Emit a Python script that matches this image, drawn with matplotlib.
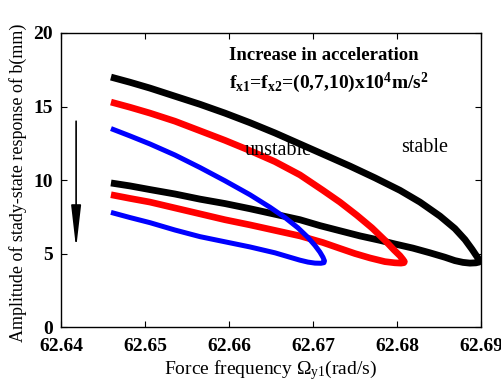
import matplotlib
matplotlib.use("Agg")
import matplotlib.pyplot as plt

plt.rcParams['font.family'] = ['Liberation Serif', 'DejaVu Serif']
plt.rcParams['mathtext.fontset'] = 'custom'
plt.rcParams['mathtext.rm'] = 'Liberation Serif'
plt.rcParams['mathtext.it'] = 'Liberation Serif:italic'
plt.rcParams['mathtext.bf'] = 'Liberation Serif:bold'
plt.rcParams['mathtext.default'] = 'regular'

# amplitude-frequency branches: upper branch out to the turning point,
# lower branch back from it
black_up_x = [62.64595, 62.64821, 62.65060, 62.65357, 62.65655, 62.65952, 62.66250,
              62.66548, 62.66845, 62.67143, 62.67440, 62.67738, 62.68036, 62.68274,
              62.68512, 62.68690, 62.68810, 62.68893, 62.68940, 62.68970, 62.68982]
black_up_y = [17.0, 16.65, 16.25, 15.7, 15.15, 14.55, 13.9, 13.2, 12.45, 11.7, 10.95,
              10.15, 9.3, 8.5, 7.55, 6.7, 5.95, 5.3, 4.9, 4.65, 4.5]
black_lo_x = [62.68976, 62.68940, 62.68869, 62.68786, 62.68690, 62.68571, 62.68393,
              62.68190, 62.67976, 62.67798, 62.67560, 62.67321, 62.67083, 62.66845,
              62.66607, 62.66250, 62.65952, 62.65655, 62.65357, 62.65060, 62.64821,
              62.64595]
black_lo_y = [4.42, 4.37, 4.35, 4.4, 4.52, 4.75, 5.05, 5.37, 5.65, 5.9, 6.2, 6.55, 6.9,
              7.3, 7.6, 8.05, 8.4, 8.7, 9.05, 9.35, 9.6, 9.8]

red_up_x = [62.64595, 62.64821, 62.65060, 62.65357, 62.65655, 62.65952, 62.66250,
            62.66548, 62.66845, 62.67119, 62.67321, 62.67524, 62.67702, 62.67857,
            62.67964, 62.68036, 62.68071, 62.68089]
red_up_y = [15.3, 14.95, 14.55, 14.0, 13.35, 12.7, 12.0, 11.25, 10.35, 9.3, 8.5, 7.6,
            6.75, 5.9, 5.25, 4.85, 4.6, 4.45]
red_lo_x = [62.68083, 62.68048, 62.67976, 62.67857, 62.67679, 62.67500, 62.67321,
            62.67119, 62.66845, 62.66607, 62.66250, 62.65952, 62.65655, 62.65357,
            62.65060, 62.64821, 62.64595]
red_lo_y = [4.38, 4.35, 4.37, 4.45, 4.7, 5.0, 5.35, 5.75, 6.2, 6.5, 6.95, 7.3, 7.7, 8.1,
            8.5, 8.75, 9.0]

blue_up_x = [62.64595, 62.64821, 62.65060, 62.65357, 62.65655, 62.65952, 62.66250,
             62.66488, 62.66667, 62.66821, 62.66940, 62.67024, 62.67083, 62.67119,
             62.67137]
blue_up_y = [13.5, 13.0, 12.45, 11.7, 10.85, 9.95, 9.0, 8.15, 7.45, 6.75, 6.1, 5.55,
             5.1, 4.75, 4.5]
blue_lo_x = [62.67131, 62.67095, 62.67024, 62.66940, 62.66845, 62.66726, 62.66548,
             62.66250, 62.65952, 62.65655, 62.65357, 62.65060, 62.64821, 62.64595]
blue_lo_y = [4.38, 4.34, 4.35, 4.42, 4.55, 4.75, 5.05, 5.45, 5.8, 6.15, 6.6, 7.1, 7.45,
             7.8]

x_ticks = [62.64, 62.65, 62.66, 62.67, 62.68, 62.69]
y_ticks = [0, 5, 10, 15, 20]

fig = plt.figure(figsize=(5.02, 3.88), dpi=100)
ax = fig.add_axes([0.1215, 0.157, 0.8365, 0.758])

curves = [
    (black_up_x + black_lo_x, black_up_y + black_lo_y, 'black', 4.9),
    (red_up_x + red_lo_x, red_up_y + red_lo_y, 'red', 4.8),
    (blue_up_x + blue_lo_x, blue_up_y + blue_lo_y, 'blue', 3.6),
]
for xs, ys, c, lw in curves:
    ax.plot(xs, ys, color=c, lw=lw, solid_joinstyle='round', solid_capstyle='butt')

ax.set_xlim(62.64, 62.69)
ax.set_ylim(0, 20)
ax.set_xticks(x_ticks)
ax.set_yticks(y_ticks)
ax.set_xticklabels(['%.2f' % v for v in x_ticks])
ax.tick_params(direction='in', length=4, width=0.8, top=True, right=True,
               labelsize=14, pad=6)
ax.tick_params(axis='x', pad=8)
for lab in ax.get_xticklabels() + ax.get_yticklabels():
    lab.set_fontweight('bold')
for sp in ax.spines.values():
    sp.set_linewidth(1.0)

ax.set_xlabel(r'Force frequency $\Omega_{y1}$(rad/s)', fontsize=14, labelpad=2)
ax.set_ylabel('Amplitude of stady-state response of b(mm)', fontsize=13)
ax.yaxis.set_label_coords(-0.08, 0.49)

ax.text(62.6600, 18.5, 'Increase in acceleration', fontsize=13.5, fontweight='bold',
        va='center')
ax.text(62.6600, 16.6, r'f$_{x1}$=f$_{x2}$=(0,7,10)x10$^{4}$m/s$^{2}$', fontsize=14,
        fontweight='bold', va='center')
ax.text(62.6619, 12.0, 'unstable', fontsize=14.5, va='center')
ax.text(62.6805, 12.2, 'stable', fontsize=14.5, va='center')

# downward arrow: growing acceleration lowers the response
ax.annotate('', xy=(62.6418, 5.35), xytext=(62.6418, 14.0),
            arrowprops=dict(arrowstyle='-|>,head_length=2.6,head_width=0.3',
                            color='black', lw=1.2, mutation_scale=10,
                            shrinkA=0, shrinkB=0))

fig.savefig('out.png', dpi=100)
